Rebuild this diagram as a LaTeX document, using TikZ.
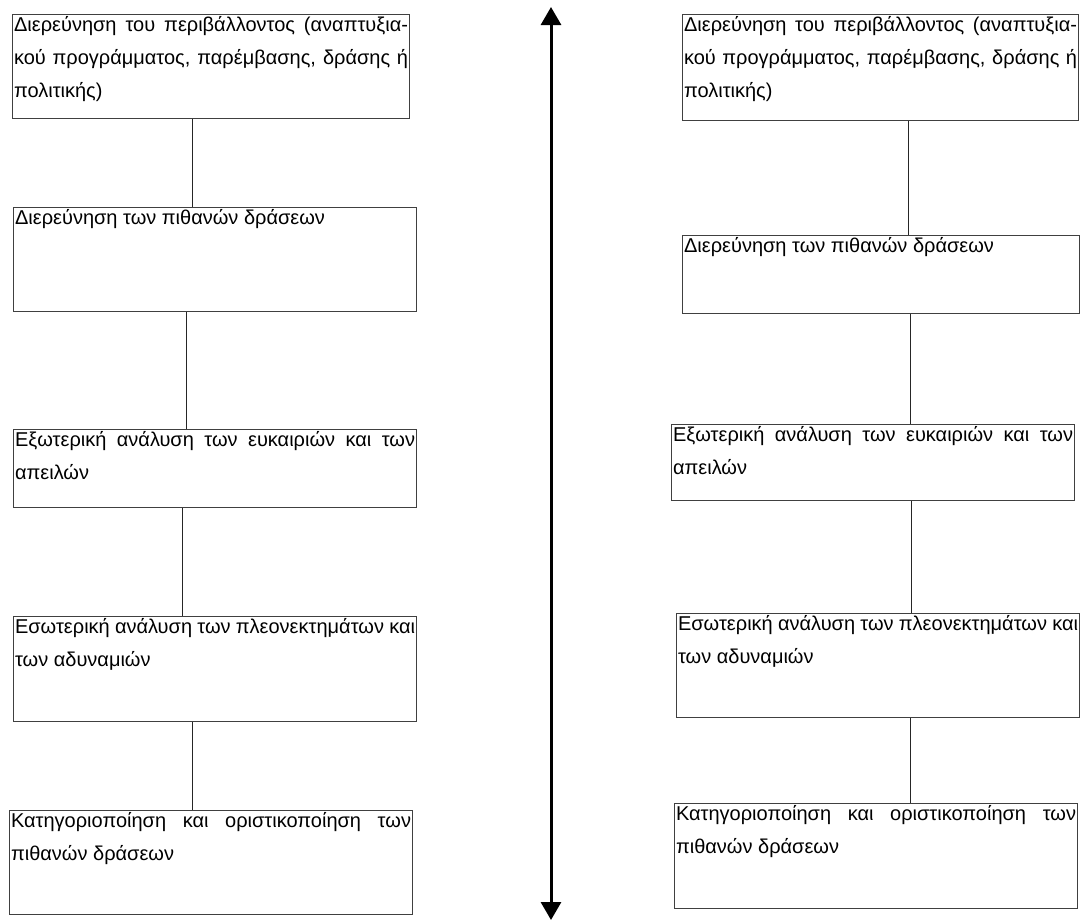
\documentclass[tikz,border=0pt]{standalone}
\usepackage{fontspec}
\setmainfont{Liberation Sans}
\usetikzlibrary{positioning,arrows.meta}
\hyphenpenalty=10000

\tikzset{
  stage/.style={draw=black!75, line width=1.1pt, anchor=north west, inner sep=1.5pt,
    align=justify, font=\fontsize{20}{33}\selectfont, text height=15pt},
  link/.style={draw=black!85, line width=0.9pt}
}

\begin{document}
\begin{tikzpicture}[x=1pt,y=-1pt]
  \useasboundingbox (0,0) rectangle (1080,922);

  % Left column
  \node[stage, text width=394pt, text depth=86pt] (L1) at (12,14) {Διερεύνηση του περιβάλλοντος (αναπτυξια-\linebreak κού προγράμματος, παρέμβασης, δράσης ή\linebreak πολιτικής)};
  \node[stage, text width=400pt, text depth=86pt] (L2) at (13,207) {Διερεύνηση των πιθανών δράσεων};
  \node[stage, text width=400pt, text depth=60pt] (L3) at (13,429) {Εξωτερική ανάλυση των ευκαιριών και των\linebreak απειλών};
  \node[stage, text width=400pt, text depth=87pt] (L4) at (13,616) {Εσωτερική ανάλυση των πλεονεκτημάτων και\linebreak των αδυναμιών};
  \node[stage, text width=400pt, text depth=86pt] (L5) at (9,810) {Κατηγοριοποίηση και οριστικοποίηση των\linebreak πιθανών δράσεων};

  \draw[link] (L1.south -| 192,0) -- (L2.north -| 192,0);
  \draw[link] (L2.south -| 186,0) -- (L3.north -| 186,0);
  \draw[link] (L3.south -| 182,0) -- (L4.north -| 182,0);
  \draw[link] (L4.south -| 192,0) -- (L5.north -| 192,0);

  % Right column
  \node[stage, text width=393pt, text depth=88pt] (R1) at (682,14) {Διερεύνηση του περιβάλλοντος (αναπτυξια-\linebreak κού προγράμματος, παρέμβασης, δράσης ή\linebreak πολιτικής)};
  \node[stage, text width=394pt, text depth=60pt] (R2) at (682,235) {Διερεύνηση των πιθανών δράσεων};
  \node[stage, text width=400pt, text depth=58pt] (R3) at (671,424) {Εξωτερική ανάλυση των ευκαιριών και των\linebreak απειλών};
  \node[stage, text width=400pt, text depth=86pt] (R4) at (676,613) {Εσωτερική ανάλυση των πλεονεκτημάτων και\linebreak των αδυναμιών};
  \node[stage, text width=400pt, text depth=87pt] (R5) at (674,803) {Κατηγοριοποίηση και οριστικοποίηση των\linebreak πιθανών δράσεων};

  \draw[link] (R1.south -| 908,0) -- (R2.north -| 908,0);
  \draw[link] (R2.south -| 910,0) -- (R3.north -| 910,0);
  \draw[link] (R3.south -| 911,0) -- (R4.north -| 911,0);
  \draw[link] (R4.south -| 910,0) -- (R5.north -| 910,0);

  % Double arrow between the columns
  \coordinate (axtop) at (551,7);
  \coordinate (axbot) at (551,920);
  \draw[line width=3pt, {Triangle[width=20pt,length=18pt]}-{Triangle[width=20pt,length=18pt]}] (axtop) -- (axbot);
\end{tikzpicture}
\end{document}
